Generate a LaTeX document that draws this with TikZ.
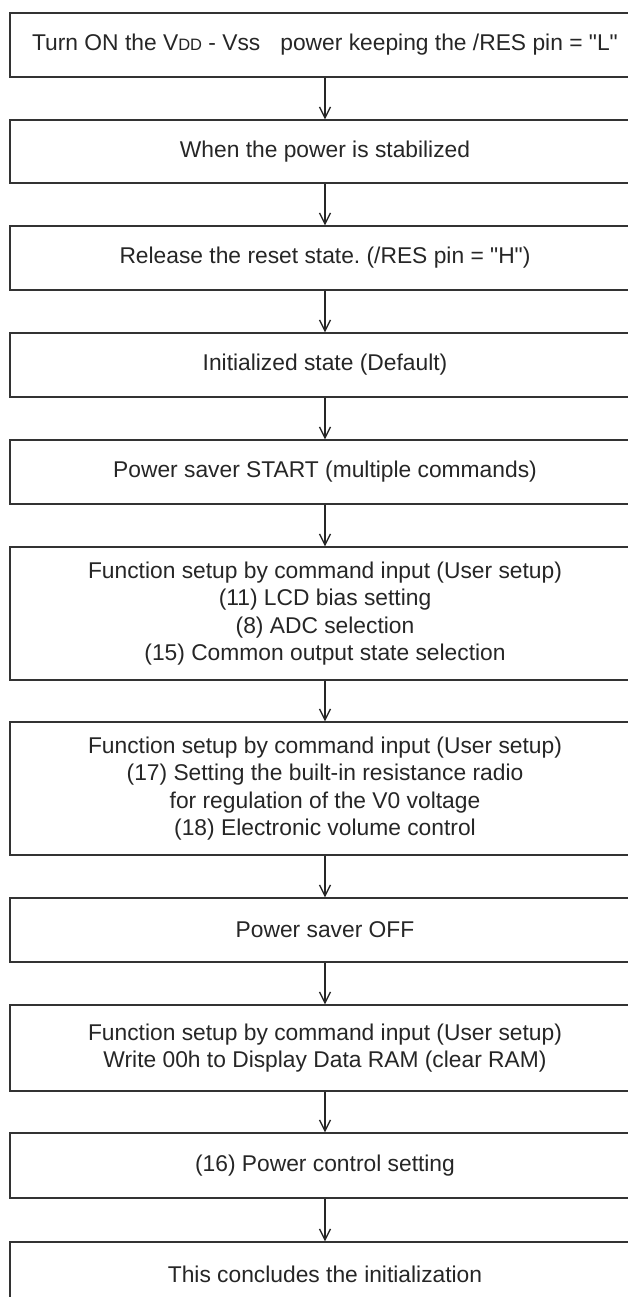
\documentclass[tikz,border=0pt]{standalone}
\usepackage{fontspec}
\setmainfont{Liberation Sans}
\usetikzlibrary{arrows.meta}
\frenchspacing
\tikzset{
  stepbox/.style={draw=black!80, line width=1.3pt, rectangle, minimum width=630pt,
    inner sep=0pt, align=center, text=black!85,
    font=\fontsize{22.8pt}{27.3pt}\selectfont},
  flow/.style={draw=black!85, line width=1.3pt, -{Straight Barb[length=11pt,width=11pt,line width=1.3pt]}}
}
\begin{document}
\begin{tikzpicture}[x=1pt,y=-1pt]
\useasboundingbox (0,0) rectangle (628,1297);
\clip (0,0) rectangle (628,1297);
\fill[white] (0,0) rectangle (628,1297);
\node[stepbox, minimum height=64pt] (b1) at (325,45) {Turn ON the V{\fontsize{16.5pt}{16.5pt}\selectfont DD} - Vss\hspace{20pt}power keeping the /RES pin = \textquotedbl L\textquotedbl};
\node[stepbox, minimum height=63pt] (b2) at (325,151.5) {When the power is stabilized};
\node[stepbox, minimum height=64pt] (b3) at (325,258) {Release the reset state. (/RES pin = \textquotedbl H\textquotedbl)};
\node[stepbox, minimum height=64pt] (b4) at (325,365) {Initialized state (Default)};
\node[stepbox, minimum height=64pt] (b5) at (325,472) {Power saver START (multiple commands)};
\node[stepbox, minimum height=133pt] (b6) at (325,613.5) {Function setup by command input (User setup)\\(11) LCD bias setting\\(8) ADC selection\\(15) Common output state selection};
\node[stepbox, minimum height=133pt] (b7) at (325,788.5) {Function setup by command input (User setup)\\(17) Setting the built-in resistance radio\\for regulation of the V0 voltage\\(18) Electronic volume control};
\node[stepbox, minimum height=64pt] (b8) at (325,930) {Power saver OFF};
\node[stepbox, minimum height=86pt] (b9) at (325,1048) {Function setup by command input (User setup)\\Write 00h to Display Data RAM (clear RAM)};
\node[stepbox, minimum height=65pt] (b10) at (325,1165.5) {(16) Power control setting};
\node[stepbox, minimum height=64pt] (b11) at (325,1274) {This concludes the initialization};
\draw[flow] (b1) -- (b2);
\draw[flow] (b2) -- (b3);
\draw[flow] (b3) -- (b4);
\draw[flow] (b4) -- (b5);
\draw[flow] (b5) -- (b6);
\draw[flow] (b6) -- (b7);
\draw[flow] (b7) -- (b8);
\draw[flow] (b8) -- (b9);
\draw[flow] (b9) -- (b10);
\draw[flow] (b10) -- (b11);
\end{tikzpicture}
\end{document}
